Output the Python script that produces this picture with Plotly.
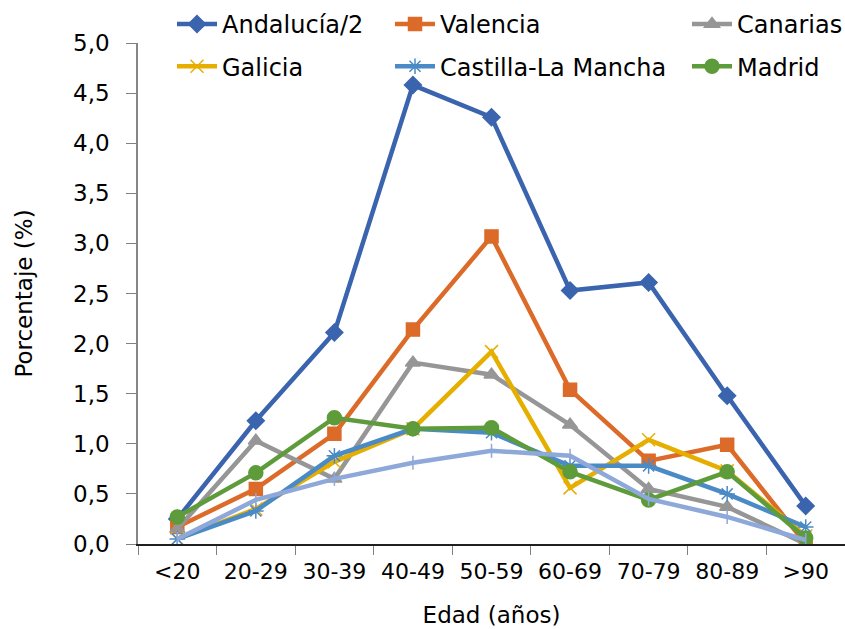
import plotly.graph_objects as go

categories = ["<20", "20-29", "30-39", "40-49", "50-59", "60-69", "70-79", "80-89", ">90"]

andalucia = [0.25, 1.23, 2.11, 4.58, 4.26, 2.53, 2.61, 1.48, 0.38]
valencia = [0.17, 0.55, 1.10, 2.14, 3.07, 1.54, 0.83, 0.99, 0.00]
canarias = [0.15, 1.03, 0.65, 1.81, 1.69, 1.19, 0.55, 0.37, 0.00]
galicia = [0.05, 0.35, 0.82, 1.15, 1.92, 0.56, 1.04, 0.73, 0.08]
castilla = [0.05, 0.33, 0.88, 1.15, 1.11, 0.78, 0.78, 0.50, 0.17]
madrid = [0.27, 0.71, 1.26, 1.15, 1.16, 0.72, 0.44, 0.72, 0.06]
otra = [0.05, 0.44, 0.65, 0.81, 0.93, 0.88, 0.45, 0.27, 0.04]

series = [
    ("Andalucía/2", andalucia, "#3B64AF", "diamond", 13, "legend", True),
    ("Valencia", valencia, "#DC6A28", "square", 13, "legend2", True),
    ("Canarias", canarias, "#969696", "triangle-up", 13, "legend3", True),
    ("Galicia", galicia, "#E6AF00", "x-thin-open", 13, "legend", True),
    ("Castilla-La Mancha", castilla, "#4A8BC6", "asterisk-open", 13, "legend2", True),
    ("Madrid", madrid, "#5E9B3A", "circle", 14, "legend3", True),
    ("Otras", otra, "#8EA8DA", "line-ns-open", 10, "legend", False),
]

fig = go.Figure()
for i, (name, vals, color, sym, size, leg, show) in enumerate(series):
    fig.add_trace(go.Scatter(
        x=categories, y=vals, name=name, mode="lines+markers",
        line=dict(color=color, width=4.5),
        marker=dict(symbol=sym, size=size, color=color,
                    line=dict(color=color, width=1.5)),
        legend=leg, showlegend=show, legendgroup=name,
    ))

font_family = "DejaVu Sans, Verdana, sans-serif"
legend_common = dict(
    orientation="v", xanchor="left", yanchor="top",
    font=dict(family=font_family, size=24, color="#000000"),
    bgcolor="rgba(0,0,0,0)", tracegroupgap=8, itemwidth=40,
)

L, R, T, B = 138, 0, 43, 85
plot_h = 629 - T - B
plot_w = 845 - L - R


def lx(px):
    return (px - L) / plot_w


def ly(py):
    return (629 - B - py) / plot_h


fig.update_layout(
    width=845, height=629, autosize=False,
    margin=dict(l=L, r=R, t=T, b=B, autoexpand=False),
    paper_bgcolor="white", plot_bgcolor="white",
    separators=",.",
    font=dict(family=font_family, size=23, color="#000000"),
    legend=dict(x=lx(172), y=ly(2), **legend_common),
    legend2=dict(x=lx(390), y=ly(2), **legend_common),
    legend3=dict(x=lx(687), y=ly(2), **legend_common),
    xaxis=dict(
        type="category", range=[-0.5, len(categories) - 0.5],
        tickson="boundaries", ticks="outside", ticklen=9,
        tickcolor="#808080", showline=True, linecolor="#202020", linewidth=1.5,
        showgrid=False, ticklabelstandoff=7, tickangle=0, automargin=False,
        tickfont=dict(family=font_family, size=22),
        title=dict(text="Edad (años)", font=dict(family=font_family, size=23), standoff=24),
    ),
    yaxis=dict(
        range=[0, 5], dtick=0.5, tickformat=".1f", ticks="outside", ticklen=10,
        tickcolor="#808080", showline=True, linecolor="#868686", linewidth=1.5,
        showgrid=False, zeroline=False, ticklabelstandoff=12, automargin=False,
        tickfont=dict(family=font_family, size=23),
        title=dict(text="Porcentaje (%)", font=dict(family=font_family, size=23), standoff=34),
    ),
)

fig.write_html("out.html", config={"displayModeBar": False},
               post_script="document.body.style.margin='0';")
